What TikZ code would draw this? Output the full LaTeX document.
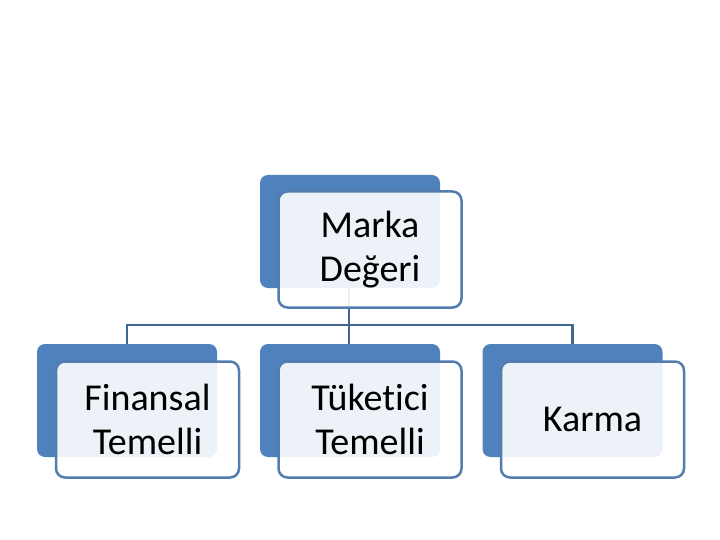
\documentclass[tikz,border=0pt]{standalone}
\usepackage{fontspec}
\setmainfont{Carlito}[Ligatures=NoCommon]
\definecolor{accblue}{RGB}{79,129,189}
\definecolor{frameblue}{RGB}{84,124,175}
\definecolor{linkblue}{RGB}{65,102,145}
\tikzset{
  backbox/.style={fill=accblue, draw=none, rounded corners=8pt, minimum width=180pt, minimum height=113pt, inner sep=0pt},
  frontbox/.style={fill=white, fill opacity=0.9, text opacity=1, draw=frameblue, line width=2.5pt, rounded corners=9pt, minimum width=183pt, minimum height=116pt, align=center, inner sep=0pt, font=\fontsize{38}{44}\selectfont},
  link/.style={draw=linkblue, line width=2.4pt}
}
\begin{document}
\begin{tikzpicture}[x=1pt,y=-1pt]
\useasboundingbox (0,0) rectangle (720,540);
% back boxes
\node[backbox] (tb) at (350,231.5) {};
\node[backbox] (b1) at (127,400.5) {};
\node[backbox] (b2) at (350,400.5) {};
\node[backbox] (b3) at (572.5,400.5) {};
% connectors
\coordinate (j) at (349,325);
\draw[link] (tb.south -| j) -- (j);
\draw[link] (j) -| (b1.north);
\draw[link] (j) -| (b3.north);
\draw[link] (j) -- (b2.north -| j);
% front boxes
\node[frontbox] (tf) at (370,249.5) {Marka\\Değeri};
\node[frontbox] (f1) at (147.5,419.5) {Finansal\\Temelli};
\node[frontbox] (f2) at (370,419.5) {Tüketici\\Temelli};
\node[frontbox] (f3) at (592.5,419.5) {Karma};
\end{tikzpicture}
\end{document}
